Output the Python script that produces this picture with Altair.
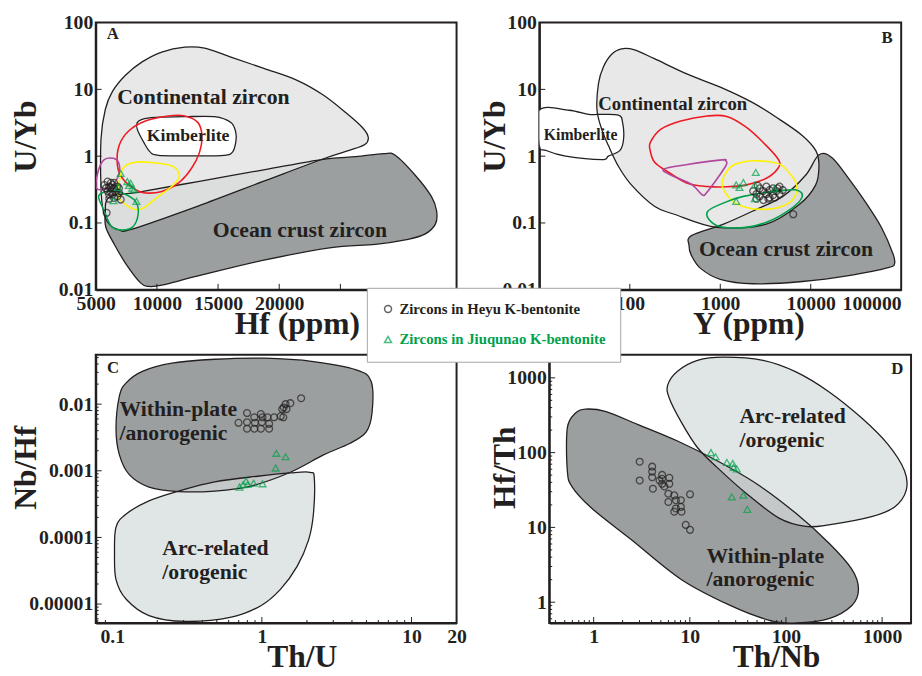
import altair as alt
import pandas as pd

FONT = "Liberation Serif"
INK = "#231f20"
DARK = "#9c9f9f"
LIGHT = "#e8e8e8"
ARC = "#e0e5e5"
RED = "#ed1c24"
YELLOW = "#fff200"
MAGENTA = "#b0479d"
GREEN = "#00a14b"

SERIES = ["Zircons in Heyu K-bentonite", "Zircons in Jiuqunao K-bentonite"]

# ---------------- Panel A : U/Yb vs Hf (ppm) ----------------
A_OCEAN = [(6100, 0.242), (8520, 0.290), (13360, 0.417), (18740, 0.625), (23570, 0.897),
           (26260, 0.984), (28520, 1.09), (29490, 1.03), (31100, 0.522), (32440, 0.25),
           (32870, 0.151), (32770, 0.096), (31910, 0.068), (30540, 0.057), (27870, 0.048),
           (24110, 0.0425), (18740, 0.0277), (13360, 0.0161), (10400, 0.0117), (9330, 0.0112),
           (8660, 0.0127), (7450, 0.0247), (6500, 0.0486), (5830, 0.0857), (5780, 0.135)]
A_CONTINENTAL = [(5430, 0.332), (5430, 1.81), (5780, 5.0), (6370, 9.32), (7450, 16.4),
                 (8790, 25.8), (10400, 36.2), (12280, 42.8), (13900, 41.4), (16050, 30.5),
                 (18740, 20.6), (21420, 13.8), (23570, 8.32), (25460, 4.47), (26800, 2.69),
                 (27280, 1.92), (27000, 1.5), (25720, 1.22), (23570, 0.908), (18740, 0.422),
                 (13360, 0.179), (7980, 0.0809), (6910, 0.079), (6100, 0.096), (5620, 0.151)]
A_KIMBERLITE = [(8390, 3.18), (8790, 3.56), (9870, 3.8), (12280, 3.9), (14700, 3.9),
                (16050, 3.2), (16450, 2.27), (16450, 1.62), (16180, 1.15), (15510, 1.03),
                (13360, 1.01), (10130, 1.03), (9460, 1.15), (8920, 1.62), (8390, 2.54)]
A_RED = [(6910, 1.44), (7710, 2.4), (9060, 3.37), (10940, 4.0), (12280, 4.0), (13360, 3.18),
         (13680, 2.03), (13490, 1.15), (12820, 0.654), (11750, 0.394), (10400, 0.296),
         (9060, 0.281), (8250, 0.315), (7180, 0.467), (6770, 0.733)]
A_YELLOW = [(7310, 0.69), (8390, 0.82), (11070, 0.73), (11830, 0.52), (11340, 0.37),
            (10000, 0.24), (8660, 0.16), (7580, 0.18), (6770, 0.265), (7040, 0.52)]
A_MAGENTA = [(5080, 0.33), (5190, 0.585), (5700, 0.89), (6640, 0.9), (6960, 0.654),
             (6690, 0.44), (6100, 0.33)]
A_GREEN = [(5300, 0.265), (6100, 0.30), (7180, 0.28), (8250, 0.21), (8470, 0.135),
           (7980, 0.086), (6910, 0.079), (6240, 0.091), (5700, 0.15), (5300, 0.22)]
A_HEYU = [(5970, 0.417), (6100, 0.352), (6370, 0.372), (6500, 0.332), (6240, 0.296),
          (5833, 0.332), (6770, 0.352), (6910, 0.281), (6100, 0.265), (6500, 0.237),
          (7040, 0.224), (5890, 0.142), (6240, 0.40), (6640, 0.30), (5970, 0.30),
          (6370, 0.265), (6770, 0.25), (6100, 0.23), (6900, 0.33), (5700, 0.37),
          (6240, 0.34), (6500, 0.40)]
A_JIU = [(7040, 0.552), (6830, 0.34), (7580, 0.417), (7850, 0.394), (7710, 0.364),
         (7980, 0.332), (8120, 0.315), (6450, 0.216), (8330, 0.211)]
A_TEXT_BIG = [(6750, 7.78, "Continental zircon"), (14570, 0.0773, "Ocean crust zircon")]
A_TEXT_SMALL = [(9170, 2.0, "Kimberlite")]
A_LETTER = [(5890, 67.3, "A")]

# ---------------- Panel B : U/Yb vs Y (ppm) ----------------
B_OCEAN = [(479, 0.0646), (1087, 0.096), (2510, 0.160), (4910, 0.25), (8820, 0.522),
           (12330, 1.05), (17200, 0.95), (26200, 0.467), (39800, 0.211), (60500, 0.0857),
           (81100, 0.0347), (84500, 0.0247), (71600, 0.0214), (28500, 0.0166), (8110, 0.0133),
           (2310, 0.0123), (1000, 0.01436), (605, 0.0209), (479, 0.0327), (451, 0.046)]
B_CONTINENTAL = [(43.3, 5.0), (45.1, 12.4), (51, 21.7), (63, 33.5), (81, 40.5), (113, 39),
                 (187, 28.8), (433, 16.9), (1000, 10.8), (2310, 6.28), (4520, 3.56),
                 (8110, 2.03), (11340, 1.22), (12330, 0.733), (11340, 0.372), (7460, 0.189),
                 (3230, 0.096), (920, 0.0857), (310, 0.135), (187, 0.178), (104, 0.372),
                 (75, 0.70), (58, 1.44), (49, 2.5)]
B_KIMBERLITE = [(10, 4.9), (21.2, 4.87), (35.1, 4.22), (45.1, 4.22), (74.6, 4.13),
                (83.2, 3.18), (85.3, 1.81), (77.8, 1.22), (58, 1.0), (49, 0.888),
                (19.5, 1.0), (11.8, 1.22), (10, 1.44)]
B_RED = [(169, 1.62), (221, 2.54), (366, 3.37), (716, 4.0), (1180, 3.93), (1950, 2.69),
         (3230, 1.44), (4440, 0.87), (4330, 0.654), (3230, 0.467), (1950, 0.372),
         (1180, 0.348), (716, 0.352), (433, 0.394), (262, 0.585), (187, 0.82), (168, 1.22)]
B_MAGENTA = [(237, 0.64), (433, 0.75), (1043, 0.88), (1150, 0.85), (1140, 0.70),
             (716, 0.29), (631, 0.265), (480, 0.38), (285, 0.52)]
B_YELLOW = [(1043, 0.39), (1285, 0.68), (1800, 0.82), (2730, 0.85), (4520, 0.76),
            (6050, 0.52), (6980, 0.37), (6580, 0.24), (4910, 0.18), (2970, 0.16),
            (1800, 0.175), (1285, 0.23)]
B_GREEN = [(728, 0.15), (1000, 0.19), (1800, 0.25), (5340, 0.31), (7460, 0.30),
           (7980, 0.24), (6310, 0.17), (3510, 0.107), (1950, 0.086), (1000, 0.088), (746, 0.114)]
B_HEYU = [(2310, 0.30), (2510, 0.27), (2730, 0.33), (2730, 0.25), (2970, 0.30), (3230, 0.35),
          (3230, 0.27), (3510, 0.31), (3510, 0.24), (3820, 0.33), (3820, 0.26), (4180, 0.30),
          (4520, 0.35), (4520, 0.27), (4910, 0.31), (2510, 0.23), (3000, 0.22), (3400, 0.23),
          (4000, 0.24), (6410, 0.135), (2600, 0.36), (4300, 0.33)]
B_JIU = [(1500, 0.372), (1630, 0.340), (1800, 0.403), (1500, 0.211), (2470, 0.571),
         (2410, 0.372), (3980, 0.325), (2410, 0.231)]
B_TEXT_BIG = [(580, 0.0402, "Ocean crust zircon")]
B_TEXT_MID = [(44.8, 5.93, "Continental zircon")]
B_TEXT_SMALL = [(11.2, 2.07, "Kimberlite")]
B_LETTER = [(60500, 58.8, "B")]

# ---------------- Panel C : Nb/Hf vs Th/U ----------------
C_DARK = [(0.1117, 0.0133), (0.124, 0.0209), (0.159, 0.0311), (0.251, 0.0412), (0.485, 0.0472),
          (1.036, 0.0489), (2.21, 0.0436), (4.27, 0.0328), (5.37, 0.0221), (5.45, 0.0075),
          (4.97, 0.0038), (3.86, 0.00257), (2.58, 0.00173), (1.55, 0.00095), (0.846, 0.000589),
          (0.485, 0.000497), (0.278, 0.000487), (0.176, 0.00057), (0.130, 0.000875),
          (0.1117, 0.00173), (0.106, 0.00428)]
C_ARC = [(0.106, 0.000143), (0.124, 0.000225), (0.176, 0.000354), (0.278, 0.000497),
         (0.485, 0.000682), (0.936, 0.000828), (1.55, 0.00093), (2.10, 0.00095),
         (2.24, 0.00078), (2.21, 0.000225), (2.05, 9.1e-5), (1.72, 3.67e-5), (1.33, 1.66e-5),
         (0.985, 9.45e-6), (0.625, 6.35e-6), (0.308, 5.48e-6), (0.176, 6.72e-6),
         (0.124, 1.18e-5), (0.106, 2.33e-5), (0.1036, 5.78e-5)]
C_HEYU = [(0.698, 0.00525), (0.796, 0.00736), (0.796, 0.00536), (0.796, 0.00428),
          (0.890, 0.00635), (0.985, 0.00711), (1.0, 0.00536), (0.985, 0.00428), (1.09, 0.00635),
          (1.118, 0.00507), (1.118, 0.00428), (1.206, 0.00635), (1.335, 0.00658),
          (1.368, 0.00844), (1.39, 0.00635), (1.40, 0.00893), (1.44, 0.0100), (1.46, 0.00844),
          (1.55, 0.01035), (1.83, 0.01227), (0.890, 0.00428), (0.899, 0.00525), (1.01, 0.00635)]
C_JIU = [(1.249, 0.00183), (1.44, 0.00163), (1.237, 0.0011), (0.709, 0.00057),
         (0.785, 0.000699), (0.804, 0.000624), (0.881, 0.000653), (1.01, 0.000638), (0.75, 0.00062)]
C_TEXT = [(0.1117, 0.00844, "Within-plate"), (0.1117, 0.00373, "/anorogenic"),
          (0.216, 6.85e-5, "Arc-related"), (0.216, 3.03e-5, "/orogenic")]
C_LETTER = [(0.0922, 0.0348, "C")]

# ---------------- Panel D : Hf/Th vs Th/Nb ----------------
D_DARK = [(0.532, 214), (0.648, 338), (0.821, 382), (1.318, 356), (2.90, 237), (7.45, 143),
          (19.2, 77.8), (49.4, 38.3), (127, 15.4), (279, 6.18), (485, 2.75), (568, 1.5),
          (485, 0.904), (279, 0.603), (127, 0.527), (67.6, 0.572), (26.3, 0.904), (8.07, 2.03),
          (2.47, 6.84), (0.961, 17.9), (0.599, 34.6), (0.532, 57.4)]
D_ARC = [(5.89, 800), (7.45, 1224), (12.0, 1710), (22.5, 1890), (57.8, 1710), (127, 1200),
         (279, 653), (614, 290), (1150, 129), (1710, 57.4), (1780, 31.3), (1350, 18.8),
         (778, 13.9), (279, 10.8), (161, 10.3), (85.7, 13.2), (39.0, 28.2), (19.2, 63.5),
         (12.0, 117), (8.07, 262), (6.12, 533)]
D_HEYU = [(3.01, 75.5), (3.01, 42.4), (4.06, 64.9), (4.06, 55.7), (4.06, 46.9), (4.13, 32.9),
          (5.15, 50.3), (5.15, 44.6), (5.15, 38.3), (6.12, 46.0), (6.12, 38.3), (5.98, 28.2),
          (5.98, 21.9), (6.89, 26.8), (7.17, 23.1), (7.17, 17.9), (8.07, 23.1), (8.07, 18.8),
          (8.19, 16.2), (6.89, 16.2), (9.07, 10.8), (10.05, 9.27), (10.05, 27.7), (5.44, 35.3),
          (4.84, 42.4)]
D_JIU = [(16.6, 100), (18.5, 88), (24.3, 74), (28.0, 71.8), (28.5, 63.5), (30.8, 60.4),
         (27.3, 25.5), (36.0, 26.9), (39.6, 17.4)]
D_TEXT = [(32.8, 305, "Arc-related"), (32.8, 147, "/orogenic"),
          (14.9, 4.12, "Within-plate"), (14.9, 2.03, "/anorogenic")]
D_LETTER = [(1248, 1327, "D")]

# tick values
A_XTICKS = [10000, 15000, 20000, 25000]
A_YTICKS = [0.1, 1, 10]
B_XTICKS = [100, 1000, 10000]
B_YTICKS = [0.1, 1, 10]
C_XMAJOR = [1, 10]
C_XMINOR = [0.08, 0.09, 0.2, 0.3, 0.4, 0.5, 0.6, 0.7, 0.8, 0.9, 2, 3, 4, 5, 6, 7, 8, 9]
C_YMAJOR = [1e-5, 1e-4, 1e-3, 1e-2]
C_YMINOR = [6e-6, 7e-6, 8e-6, 9e-6, 2e-5, 3e-5, 4e-5, 5e-5, 6e-5, 7e-5, 8e-5, 9e-5,
            2e-4, 3e-4, 4e-4, 5e-4, 6e-4, 7e-4, 8e-4, 9e-4, 2e-3, 3e-3, 4e-3, 5e-3,
            6e-3, 7e-3, 8e-3, 9e-3, 0.02, 0.03, 0.04, 0.05]
D_XMAJOR = [1, 10, 100, 1000]
D_XMINOR = [0.4, 0.5, 0.6, 0.7, 0.8, 0.9, 2, 3, 4, 5, 6, 7, 8, 9, 20, 30, 40, 50, 60, 70,
            80, 90, 200, 300, 400, 500, 600, 700, 800, 900]
D_YMAJOR = [1, 10, 100, 1000]
D_YMINOR = [0.6, 0.7, 0.8, 0.9, 2, 3, 4, 5, 6, 7, 8, 9, 20, 30, 40, 50, 60, 70, 80, 90,
            200, 300, 400, 500, 600, 700, 800, 900]


def table(pts):
    return pd.DataFrame({"x": [p[0] for p in pts], "y": [p[1] for p in pts],
                         "i": list(range(len(pts)))})


def points_table(heyu, jiu):
    rows = [{"x": p[0], "y": p[1], "s": SERIES[0]} for p in heyu]
    rows += [{"x": p[0], "y": p[1], "s": SERIES[1]} for p in jiu]
    return pd.DataFrame(rows)


def text_table(items):
    return pd.DataFrame({"x": [t[0] for t in items], "y": [t[1] for t in items],
                         "t": [t[2] for t in items]})


LEG = alt.Legend(
    title=None, orient="none", legendX=275, legendY=269, direction="vertical",
    fillColor="white", strokeColor="#a6a6a6", padding=14, rowPadding=15,
    labelFont=FONT, labelFontSize=15, labelFontWeight="bold", labelLimit=600, labelOffset=4,
    labelColor=alt.ExprRef(expr="datum.label == '" + SERIES[0] + "' ? '" + INK + "' : '" + GREEN + "'"),
    symbolSize=50, symbolStrokeWidth=1.5, zindex=1,
)


def build_panel(xscale, yscale, xaxis, yaxis, W, H, fills, outlines, heyu, jiu, texts,
                xt_major, xt_minor, yt_major, yt_minor):
    X = alt.X("x:Q", scale=xscale, axis=xaxis)
    Y = alt.Y("y:Q", scale=yscale, axis=yaxis)
    layers = []
    for pts, color, op in fills:
        layers.append(alt.Chart(table(pts)).mark_line(
            interpolate="cardinal-closed", fill=color, fillOpacity=op, strokeOpacity=0, clip=True
        ).encode(x=X, y=Y, order="i:Q"))
    for pts, color, w in outlines:
        layers.append(alt.Chart(table(pts)).mark_line(
            interpolate="cardinal-closed", stroke=color, strokeWidth=w, clip=True
        ).encode(x=X, y=Y, order="i:Q"))
    layers.append(alt.Chart(points_table(heyu, jiu)).mark_point(
        filled=False, size=48, strokeWidth=1.3, clip=True
    ).encode(
        x=X, y=Y,
        shape=alt.Shape("s:N", scale=alt.Scale(domain=SERIES, range=["circle", "triangle-up"]), legend=LEG),
        color=alt.Color("s:N", scale=alt.Scale(domain=SERIES, range=[INK, GREEN]), legend=LEG),
    ))
    for items, fs in texts:
        layers.append(alt.Chart(text_table(items)).mark_text(
            align="left", baseline="middle", font=FONT, fontWeight="bold", fontSize=fs, color=INK
        ).encode(x=X, y=Y, text="t:N"))
    for vals, L in ((yt_major, 6), (yt_minor, 3)):
        if vals:
            layers.append(alt.Chart(pd.DataFrame({"y": vals})).mark_rule(
                color=INK, strokeWidth=1).encode(y=Y, x=alt.value(0), x2=alt.value(L)))
    for vals, L in ((xt_major, 6), (xt_minor, 3)):
        if vals:
            layers.append(alt.Chart(pd.DataFrame({"x": vals})).mark_rule(
                color=INK, strokeWidth=1).encode(x=X, y=alt.value(H), y2=alt.value(H - L)))
    return alt.layer(*layers).properties(width=W, height=H)


def xaxis(values, title, tx, fmt="~g", flush=False):
    return alt.Axis(values=values, title=title, format=fmt, ticks=False, labelFlush=flush,
                    labelOverlap=False, labelPadding=4, titleX=tx, titleY=44,
                    titleBaseline="alphabetic")


def yaxis(values, title, tx, ty):
    return alt.Axis(values=values, title=title, format="~g", ticks=False, labelOverlap=False,
                    labelPadding=3, titleX=tx, titleY=ty, titleBaseline="alphabetic",
                    titleAngle=270)


panelA = build_panel(
    alt.Scale(type="linear", domain=[5000, 34500], nice=False, zero=False),
    alt.Scale(type="log", domain=[0.01, 100], nice=False),
    xaxis([5000, 10000, 15000, 20000], "Hf (ppm)", 204, fmt="d"),
    yaxis([0.01, 0.1, 1, 10, 100], "U/Yb", -61, 115),
    366, 271,
    [(A_OCEAN, DARK, 1), (A_CONTINENTAL, LIGHT, 1), (A_KIMBERLITE, "white", 1), (A_OCEAN, DARK, 0.15)],
    [(A_OCEAN, INK, 1.3), (A_CONTINENTAL, INK, 1.3), (A_KIMBERLITE, INK, 1.3),
     (A_RED, RED, 1.6), (A_YELLOW, YELLOW, 1.6), (A_MAGENTA, MAGENTA, 1.6), (A_GREEN, GREEN, 1.6)],
    A_HEYU, A_JIU,
    [(A_TEXT_BIG, 22), (A_TEXT_SMALL, 18), (A_LETTER, 17)],
    A_XTICKS, [], A_YTICKS, [],
)

panelB = build_panel(
    alt.Scale(type="log", domain=[10, 100000], nice=False),
    alt.Scale(type="log", domain=[0.01, 100], nice=False),
    xaxis([10, 100, 1000, 10000, 100000], "Y (ppm)", 212, flush=True),
    yaxis([0.01, 0.1, 1, 10, 100], "U/Yb", -35, 115),
    367, 271,
    [(B_OCEAN, DARK, 1), (B_CONTINENTAL, LIGHT, 1), (B_KIMBERLITE, "white", 1), (B_OCEAN, DARK, 0.15)],
    [(B_OCEAN, INK, 1.3), (B_CONTINENTAL, INK, 1.3), (B_KIMBERLITE, INK, 1.3),
     (B_RED, RED, 1.6), (B_MAGENTA, MAGENTA, 1.6), (B_YELLOW, YELLOW, 1.6), (B_GREEN, GREEN, 1.6)],
    B_HEYU, B_JIU,
    [(B_TEXT_BIG, 22), (B_TEXT_MID, 19), (B_TEXT_SMALL, 16), (B_LETTER, 17)],
    B_XTICKS, [], B_YTICKS, [],
)

panelC = build_panel(
    alt.Scale(type="log", domain=[0.0776, 20], nice=False),
    alt.Scale(type="log", domain=[5.2e-6, 0.055], nice=False),
    xaxis([0.1, 1, 10, 20], "Th/U", 209),
    yaxis([1e-5, 1e-4, 1e-3, 1e-2], "Nb/Hf", -61, 114),
    366, 272,
    [(C_ARC, ARC, 1), (C_DARK, DARK, 1), (C_ARC, ARC, 0.6)],
    [(C_DARK, INK, 1.3), (C_ARC, INK, 1.3)],
    C_HEYU, C_JIU,
    [(C_TEXT, 22), (C_LETTER, 17)],
    C_XMAJOR, C_XMINOR, C_YMAJOR, C_YMINOR,
)

panelD = build_panel(
    alt.Scale(type="log", domain=[0.345, 2000], nice=False),
    alt.Scale(type="log", domain=[0.527, 2030], nice=False),
    xaxis([1, 10, 100, 1000], "Th/Nb", 230),
    yaxis([1, 10, 100, 1000], "Hf/Th", -35, 114),
    367, 272,
    [(D_ARC, ARC, 1), (D_DARK, DARK, 1), (D_ARC, ARC, 0.6)],
    [(D_DARK, INK, 1.3), (D_ARC, INK, 1.3)],
    D_HEYU, D_JIU,
    [(D_TEXT, 22), (D_LETTER, 17)],
    D_XMAJOR, D_XMINOR, D_YMAJOR, D_YMINOR,
)

RES = dict(x="independent", y="independent", color="shared", shape="shared")
top = alt.hconcat(panelA, panelB, spacing=21).resolve_scale(**RES)
bottom = alt.hconcat(panelC, panelD, spacing=21).resolve_scale(**RES)

chart = (
    alt.vconcat(top, bottom, spacing=14)
    .resolve_scale(**RES)
    .properties(padding={"left": 1, "top": -1, "right": 2, "bottom": 0})
    .configure(font=FONT)
    .configure_view(stroke=INK, strokeWidth=2)
    .configure_axis(labelFont=FONT, labelFontSize=20, labelFontWeight="bold", labelColor=INK,
                    titleFont=FONT, titleFontSize=32, titleFontWeight="bold", titleColor=INK,
                    domainColor=INK, domainWidth=2, grid=False)
)

chart.save("out.html", embed_options={"renderer": "svg", "actions": False})
